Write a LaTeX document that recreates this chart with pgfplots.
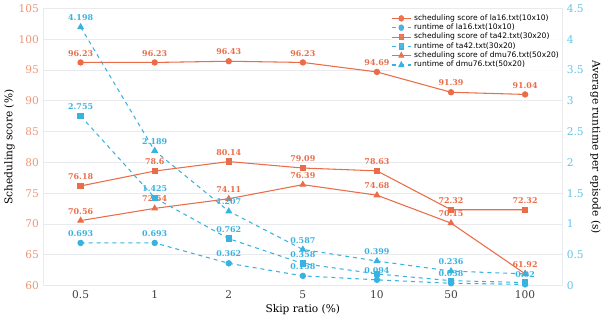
\documentclass[border=0pt]{standalone}
\usepackage{pgfplots}
\pgfplotsset{compat=1.18}
\usepackage{fontspec}
\setmainfont{DejaVu Serif}
\newfontfamily\legfont{DejaVu Sans}
\definecolor{cor}{RGB}{234,108,72}
\definecolor{corl}{RGB}{236,150,120}
\definecolor{cbl}{RGB}{56,178,224}
\definecolor{cbll}{RGB}{100,195,230}
\definecolor{grd}{RGB}{232,234,238}
\begin{document}
\begin{tikzpicture}
\pgfplotsset{
  common/.style={
    scale only axis, width=391pt, height=209pt,
    xmin=-0.5, xmax=6.5,
    /pgf/number format/assume math mode=true,
    tick label style={font=\fontsize{8}{9}\selectfont},
    label style={font=\fontsize{8}{9}\selectfont},
    nodes near coords style={font=\fontsize{6}{7}\selectfont\bfseries, anchor=south, yshift=1pt},
    point meta=explicit symbolic,
  }
}
\begin{axis}[common,
  ymin=60, ymax=105, ytick={60,65,...,105},
  xtick={0,...,6}, xticklabels={0.5,1,2,5,10,50,100},
  ymajorgrids, grid style={grd, line width=0.6pt},
  axis line style={grd, line width=0.8pt},
  axis x line*=bottom, axis y line*=left,
  tick style={draw=none},
  yticklabel style={text=corl},
  xticklabel style={text=black!75},
  xlabel={Skip ratio (\%)}, ylabel={Scheduling score (\%)},
  ylabel style={yshift=-4pt},
  xlabel style={yshift=2pt},
]
\addplot[cor, line width=0.8pt, mark=*, mark size=2pt, nodes near coords, every node near coord/.append style={text=cor}] coordinates {
(0,96.23)[96.23] (1,96.23)[96.23] (2,96.43)[96.43] (3,96.23)[96.23] (4,94.69)[94.69] (5,91.39)[91.39] (6,91.04)[91.04]};
\addplot[cor, line width=0.8pt, mark=square*, mark size=2pt, nodes near coords, every node near coord/.append style={text=cor}] coordinates {
(0,76.18)[76.18] (1,78.6)[78.6] (2,80.14)[80.14] (3,79.09)[79.09] (4,78.63)[78.63] (5,72.32)[72.32] (6,72.32)[72.32]};
\addplot[cor, line width=0.8pt, mark=triangle*, mark size=2.3pt, nodes near coords, every node near coord/.append style={text=cor}] coordinates {
(0,70.56)[70.56] (1,72.54)[72.54] (2,74.11)[74.11] (3,76.39)[76.39] (4,74.68)[74.68] (5,70.15)[70.15] (6,61.92)[61.92]};
\end{axis}
\begin{axis}[common,
  ymin=0, ymax=4.5, ytick={0,0.5,...,4.5},
  axis x line=none, axis y line*=right,
  axis line style={grd, line width=0.8pt},
  tick style={draw=none},
  yticklabel style={text=cbll},
  ylabel={Average runtime per episode (s)},
  ylabel style={rotate=180, yshift=-2pt},
  legend style={at={(1,0.99)}, anchor=north east, draw=none, fill=white, fill opacity=0.85, text opacity=1,
    font=\legfont\fontsize{5.7}{6}\selectfont, row sep=-2.8pt, inner sep=0.3pt},
  legend image post style={xscale=0.85},
  legend cell align=left,
]
\addlegendimage{cor, line width=0.8pt, mark=*, mark size=2pt}
\addlegendentry{scheduling score of la16.txt(10x10)}
\addplot[cbl, line width=0.8pt, dashed, mark=*, mark size=2pt, mark options={solid}, nodes near coords, every node near coord/.append style={text=cbl}] coordinates {
(0,0.693)[0.693] (1,0.693)[0.693] (2,0.362)[0.362] (3,0.158)[0.158] (4,0.094)[0.094] (5,0.038)[0.038] (6,0.02)[0.02]};
\addlegendentry{runtime of la16.txt(10x10)}
\addlegendimage{cor, line width=0.8pt, mark=square*, mark size=2pt}
\addlegendentry{scheduling score of ta42.txt(30x20)}
\addplot[cbl, line width=0.8pt, dashed, mark=square*, mark size=2pt, mark options={solid}, nodes near coords, every node near coord/.append style={text=cbl}] coordinates {
(0,2.755)[2.755] (1,1.425)[1.425] (2,0.762)[0.762] (3,0.358)[0.358] (4,0.19)[] (5,0.08)[] (6,0.05)[]};
\addlegendentry{runtime of ta42.txt(30x20)}
\addlegendimage{cor, line width=0.8pt, mark=triangle*, mark size=2.3pt}
\addlegendentry{scheduling score of dmu76.txt(50x20)}
\addplot[cbl, line width=0.8pt, dashed, mark=triangle*, mark size=2.3pt, mark options={solid}, nodes near coords, every node near coord/.append style={text=cbl}] coordinates {
(0,4.198)[4.198] (1,2.189)[2.189] (2,1.207)[1.207] (3,0.587)[0.587] (4,0.399)[0.399] (5,0.236)[0.236] (6,0.19)[]};
\addlegendentry{runtime of dmu76.txt(50x20)}
\end{axis}
\end{tikzpicture}
\end{document}
